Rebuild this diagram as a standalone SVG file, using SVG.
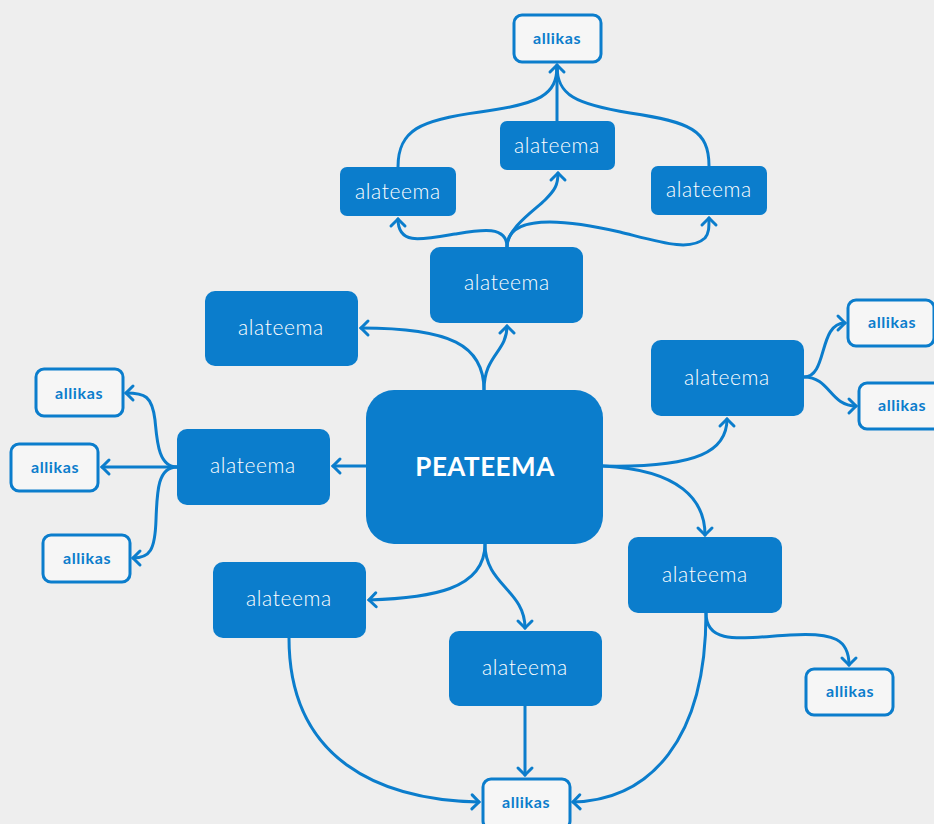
<svg xmlns="http://www.w3.org/2000/svg" width="934" height="824" viewBox="0 0 934 824">
<defs>
<style>
.sub rect{fill:#0b7dcc;}
.sub text{fill:#ffffff;font-family:Lato,"Open Sans",sans-serif;font-size:21px;font-weight:300;letter-spacing:0.6px;text-anchor:middle;}
.src rect{fill:#f6f6f6;stroke:#0b7dcc;stroke-width:3;}
.src text{fill:#0b7dcc;font-family:Lato,"Open Sans",sans-serif;font-size:16px;font-weight:700;letter-spacing:0.6px;text-anchor:middle;}
.main rect{fill:#0b7dcc;}
.main text{fill:#ffffff;font-family:Lato,"Open Sans",sans-serif;font-size:26px;font-weight:700;letter-spacing:0.5px;text-anchor:middle;}
.links path{fill:none;stroke:#0b7dcc;stroke-width:3;stroke-linecap:round;}
.links path.a{marker-end:url(#arr);}
</style>
<marker id="arr" markerUnits="userSpaceOnUse" markerWidth="20" markerHeight="20" viewBox="-10 -10 20 20" refX="0" refY="0" orient="auto">
<path d="M-7,-7 L0,0 L-7,7" fill="none" stroke="#0b7dcc" stroke-width="3" stroke-linecap="round" stroke-linejoin="miter"/>
</marker>
</defs>
<rect width="934" height="824" fill="#eeeeee"/>

<g class="links">
<!-- PEATEEMA -> top alateema & upper-left -->
<path class="a" d="M484,390 C484,355 507,352 507,326"/>
<path class="a" d="M484,390 C484,345 450,328 361,328"/>
<!-- top alateema -> three -->
<path class="a" d="M507,247 C507,228 535,210 545,200 C555,190 558,185 558,173"/>
<path class="a" d="M507,247 C507,225 480,230 455,234 C420,240 398,245 398,219"/>
<path class="a" d="M507,247 C507,215 560,218 620,232 C660,242 690,252 705,238 C709,233 709,228 709,218"/>
<!-- three -> allikas top -->
<path d="M398,167 C398,130 420,120 480,112 C540,104 557,95 557,66"/>
<path d="M557,121 L557,66"/>
<path d="M709,166 C709,130 690,122 630,113 C575,104 557,95 557,66"/>
<path class="a" d="M557,80 L557,65"/>
<!-- PEATEEMA -> left alateema -->
<path class="a" d="M366,466 L333,466"/>
<!-- left alateema -> allikas -->
<path class="a" d="M177,467 C158,467 157,440 155,420 C152,396 145,393 126,393"/>
<path class="a" d="M177,467 L102,467"/>
<path class="a" d="M177,467 C158,467 157,490 156,520 C155,550 150,558 133,558"/>
<!-- PEATEEMA -> right alateema & lower right -->
<path class="a" d="M603,466 C700,468 727,450 727,419"/>
<path class="a" d="M603,466 C680,470 705,500 705,535"/>
<!-- right alateema -> allikas -->
<path class="a" d="M804,377 C828,377 818,323 845,323"/>
<path class="a" d="M804,377 C830,377 830,406 856,406"/>
<!-- PEATEEMA bottom -->
<path class="a" d="M485,544 C485,590 430,598 369,600"/>
<path class="a" d="M485,544 C485,585 525,590 525,628"/>
<!-- to bottom allikas -->
<path class="a" d="M289,638 C289,760 380,800 479,802"/>
<path class="a" d="M525,706 L525,775"/>
<path class="a" d="M706,613 C706,740 650,800 573,802"/>
<path class="a" d="M706,613 C706,645 740,638 790,635 C835,632 849,640 849,665"/>
</g>

<g id="main" class="main"><rect x="366" y="390" width="237" height="154" rx="28"/><text x="485" y="476">PEATEEMA</text></g>

<g id="sub-top" class="sub"><rect x="430" y="247" width="153" height="76" rx="10"/><text x="507" y="290">alateema</text></g>
<g id="sub-top-mid" class="sub"><rect x="500" y="121" width="115" height="49" rx="7"/><text x="557" y="153">alateema</text></g>
<g id="sub-top-left" class="sub"><rect x="340" y="167" width="116" height="49" rx="7"/><text x="398" y="199">alateema</text></g>
<g id="sub-top-right" class="sub"><rect x="651" y="166" width="116" height="49" rx="7"/><text x="709" y="197">alateema</text></g>
<g id="sub-upper-left" class="sub"><rect x="205" y="291" width="153" height="75" rx="10"/><text x="281" y="335">alateema</text></g>
<g id="sub-left" class="sub"><rect x="177" y="429" width="153" height="76" rx="10"/><text x="253" y="473">alateema</text></g>
<g id="sub-right" class="sub"><rect x="651" y="340" width="153" height="76" rx="10"/><text x="727" y="385">alateema</text></g>
<g id="sub-lower-right" class="sub"><rect x="628" y="537" width="154" height="76" rx="10"/><text x="705" y="582">alateema</text></g>
<g id="sub-lower-left" class="sub"><rect x="213" y="562" width="153" height="76" rx="10"/><text x="289" y="606">alateema</text></g>
<g id="sub-lower-mid" class="sub"><rect x="449" y="631" width="153" height="75" rx="10"/><text x="525" y="675">alateema</text></g>

<g id="src-top" class="src"><rect x="514" y="15" width="87" height="47" rx="8"/><text x="557" y="44">allikas</text></g>
<g id="src-left-top" class="src"><rect x="36" y="369" width="87" height="47" rx="8"/><text x="79" y="399">allikas</text></g>
<g id="src-left-mid" class="src"><rect x="11" y="444" width="87" height="47" rx="8"/><text x="55" y="473">allikas</text></g>
<g id="src-left-bot" class="src"><rect x="43" y="535" width="87" height="47" rx="8"/><text x="87" y="564">allikas</text></g>
<g id="src-right-top" class="src"><rect x="848" y="300" width="86" height="46" rx="8"/><text x="892" y="328">allikas</text></g>
<g id="src-right-bot" class="src"><rect x="859" y="383" width="87" height="46" rx="8"/><text x="902" y="411">allikas</text></g>
<g id="src-lower-right" class="src"><rect x="806" y="669" width="87" height="46" rx="8"/><text x="850" y="697">allikas</text></g>
<g id="src-bottom" class="src"><rect x="483" y="779" width="87" height="50" rx="8"/><text x="526" y="808">allikas</text></g>
</svg>
